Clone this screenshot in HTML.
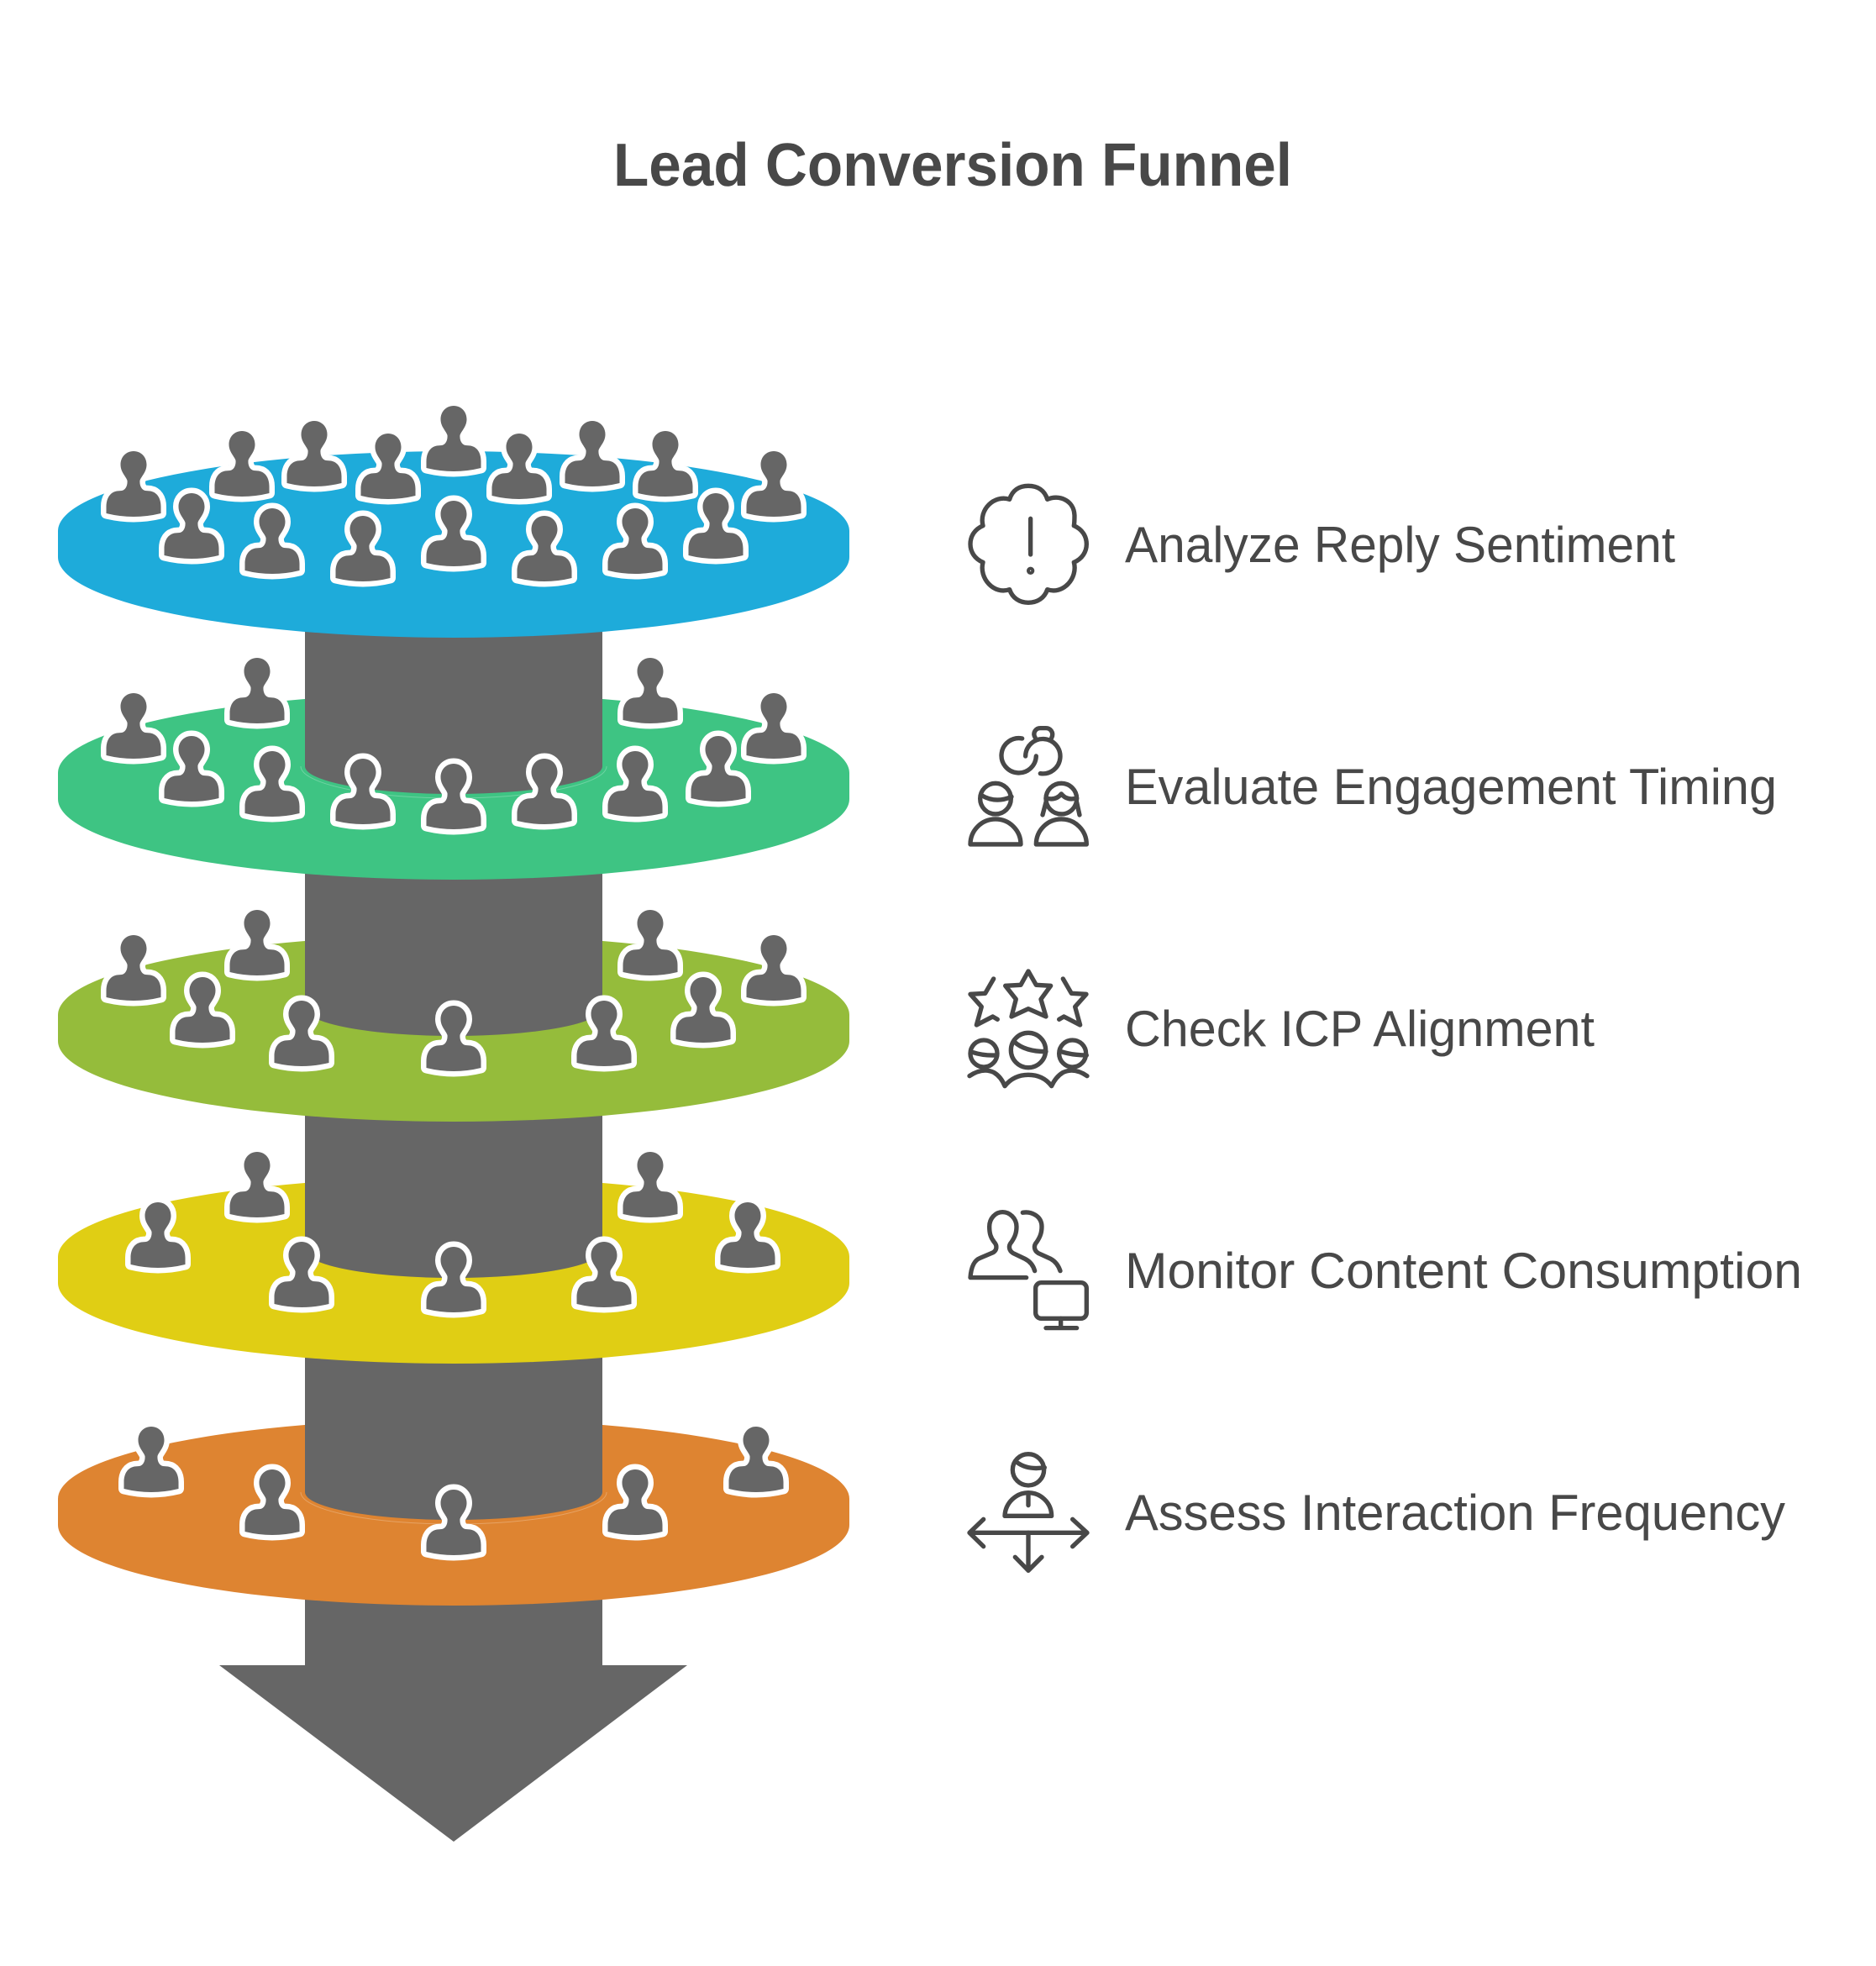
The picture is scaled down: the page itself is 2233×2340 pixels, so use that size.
<!DOCTYPE html>
<html><head><meta charset="utf-8"><title>Lead Conversion Funnel</title>
<style>html,body{margin:0;padding:0;background:#fff}svg{display:block}
text{font-family:"Liberation Sans",sans-serif;fill:#484848}
.l{font-size:60px}
.i{fill:none;stroke:#484848;stroke-width:16;stroke-linecap:round;stroke-linejoin:round}
</style></head><body>
<svg xmlns="http://www.w3.org/2000/svg" width="2233" height="2340" viewBox="0 0 2233 2340">
<defs>
<path id="p" d="M0 0C9 0 15.5 7 15.5 16C15.5 25 9 30 7.5 35C7 40 9 46 14 47L20 47.5C28 49 32.5 56 32.5 66V74Q0 82 -32.5 74V66C-32.5 56 -28 49 -20 47.5L-14 47C-9 46 -7 40 -7.5 35C-9 30 -15.5 25 -15.5 16C-15.5 7 -9 0 0 0Z" fill="#666" stroke="#fff" stroke-width="13" paint-order="stroke" stroke-linejoin="round"/>
<path id="d" d="M69 632A471 95 0 0 1 1011 632V663A471 96 0 0 1 69 663Z"/>
<path id="s" d="M363 650H717V912A177 33 0 0 1 363 912Z" fill="#666"/>
<path id="r" d="M358 912A182 38 0 0 0 722 912" fill="none" stroke="#fff" stroke-opacity=".25" stroke-width="1"/>
</defs>
<rect width="2233" height="2340" fill="#fff"/>
<text x="730" y="221" font-size="72" font-weight="700" textLength="808" lengthAdjust="spacingAndGlyphs">Lead Conversion Funnel</text>

<path d="M363 1900H717V1982H818L540 2192L261 1982H363Z" fill="#666"/>

<!-- orange -->
<use href="#d" y="1152" fill="#DE8431"/>
<use href="#r" y="864"/>
<use href="#s" y="864"/>
<use href="#p" x="180" y="1698"/><use href="#p" x="900" y="1698"/>
<use href="#p" x="324" y="1749"/><use href="#p" x="756" y="1749"/>
<use href="#p" x="540" y="1773"/>

<!-- yellow -->
<use href="#d" y="864" fill="#E0CE14"/>
<use href="#s" y="576"/>
<use href="#p" x="306" y="1371"/><use href="#p" x="774" y="1371"/>
<use href="#p" x="188" y="1431"/><use href="#p" x="890" y="1431"/>
<use href="#p" x="359" y="1478"/><use href="#p" x="719" y="1478"/>
<use href="#p" x="540" y="1484"/>

<!-- lime -->
<use href="#d" y="576" fill="#95BC3B"/>
<use href="#s" y="288"/>
<use href="#p" x="306" y="1083"/><use href="#p" x="774" y="1083"/>
<use href="#p" x="159" y="1113"/><use href="#p" x="921" y="1113"/>
<use href="#p" x="241" y="1163"/><use href="#p" x="837" y="1163"/>
<use href="#p" x="359" y="1191"/><use href="#p" x="719" y="1191"/>
<use href="#p" x="540" y="1197"/>

<!-- green -->
<use href="#d" y="288" fill="#3EC483"/>
<use href="#r" y="0"/>
<use href="#s" y="0"/>
<use href="#p" x="306" y="783"/><use href="#p" x="774" y="783"/>
<use href="#p" x="159" y="825"/><use href="#p" x="921" y="825"/>
<use href="#p" x="228" y="876"/><use href="#p" x="855" y="876"/>
<use href="#p" x="324" y="894"/><use href="#p" x="756" y="894"/>
<use href="#p" x="432" y="903"/><use href="#p" x="648" y="903"/>
<use href="#p" x="540" y="909"/>

<!-- blue -->
<use href="#d" fill="#1EABDA"/>
<use href="#p" x="540" y="483"/>
<use href="#p" x="374" y="501"/><use href="#p" x="705" y="501"/>
<use href="#p" x="288" y="513"/><use href="#p" x="792" y="513"/>
<use href="#p" x="462" y="516"/><use href="#p" x="618" y="516"/>
<use href="#p" x="159" y="537"/><use href="#p" x="921" y="537"/>
<use href="#p" x="228" y="587"/><use href="#p" x="852" y="587"/>
<use href="#p" x="540" y="596"/>
<use href="#p" x="324" y="605"/><use href="#p" x="756" y="605"/>
<use href="#p" x="432" y="614"/><use href="#p" x="648" y="614"/>

<!-- labels -->
<text class="l" x="1339" y="669" textLength="655" lengthAdjust="spacingAndGlyphs">Analyze Reply Sentiment</text>
<text class="l" x="1339" y="957" textLength="776" lengthAdjust="spacingAndGlyphs">Evaluate Engagement Timing</text>
<text class="l" x="1339" y="1245" textLength="559" lengthAdjust="spacingAndGlyphs">Check ICP Alignment</text>
<text class="l" x="1339" y="1533" textLength="806" lengthAdjust="spacingAndGlyphs">Monitor Content Consumption</text>
<text class="l" x="1339" y="1821" textLength="786" lengthAdjust="spacingAndGlyphs">Assess Interaction Frequency</text>

<!-- icons 1 and 2 -->
<g class="i" transform="translate(1130,560) scale(.3333)">
<path d="M215 103C225 70 250 55 282 55C315 55 340 70 350 103C390 85 445 105 447 160C447 172 447 185 445 197C475 210 490 235 490 263C490 290 475 315 445 328C460 385 405 445 350 425C340 455 315 472 282 472C250 472 225 455 215 425C160 445 105 385 120 328C90 315 75 290 75 263C75 235 90 210 120 197C105 140 160 85 215 103Z"/>
<path d="M290 172V300"/><circle cx="290" cy="358" r="6"/>
<path d="M260 957A62 62 0 1 0 310 1020"/>
<path d="M272 1020A62 62 0 1 1 325 1082"/>
<path d="M307 955C295 935 310 920 325 920H345C360 920 375 935 365 955"/>
<circle cx="165" cy="1172" r="55"/><path d="M115 1160Q165 1190 222 1165"/>
<path d="M75 1335A90 90 0 0 1 255 1335Z"/>
<circle cx="400" cy="1172" r="55"/><path d="M345 1170Q380 1180 400 1155Q420 1180 455 1170"/>
<path d="M345 1185L333 1230M455 1185L465 1230"/>
<path d="M310 1335A90 90 0 0 1 490 1335Z"/>
</g>

<!-- icons 3 and 4 -->
<g class="i" transform="translate(1130,1130) scale(.3333)">
<path d="M282 78L310 127L362 130L327 178L345 240L282 212L222 240L238 178L200 130L255 127Z"/>
<path d="M158 105L128 157L75 160L115 205L97 270L155 240L172 250"/>
<path d="M406 105L436 157L489 160L449 205L467 270L409 240L392 250"/>
<circle cx="123" cy="372" r="48"/><circle cx="282" cy="360" r="62"/><circle cx="440" cy="372" r="48"/>
<path d="M85 368Q120 380 170 378M232 330Q270 365 345 365M400 365Q440 378 490 378"/>
<path d="M72 452Q120 420 160 440Q185 455 198 488Q230 448 282 448Q335 448 365 488Q380 455 405 440Q445 420 492 452"/>
<path d="M275 1172H75C78 1130 90 1110 110 1102L155 1083C170 1075 172 1058 160 1045C148 1030 143 1015 143 990C143 960 165 938 190 938C215 938 240 960 240 990C240 1015 232 1030 222 1045C210 1058 212 1075 228 1085L270 1105C290 1115 300 1130 305 1148"/>
<path d="M262 940C290 935 330 950 330 990C330 1015 322 1030 312 1045C300 1058 302 1075 318 1085L362 1105C380 1115 390 1130 396 1148"/>
<rect x="308" y="1190" width="182" height="128" rx="20"/>
<path d="M398 1318V1352M345 1352H455"/>
</g>

<!-- icon 5 -->
<g class="i" transform="translate(1130,1700) scale(.3333)">
<circle cx="282" cy="148" r="56"/><path d="M242 122Q280 150 340 140"/>
<path d="M198 313C200 265 240 230 282 230C325 230 365 265 365 313Z"/>
<path d="M282 235V275"/>
<path d="M72 373H492M122 325L72 373L122 422M440 325L492 373L440 422"/>
<path d="M282 373V508M235 460L282 508L330 460"/>
</g>
</svg>
</body></html>
